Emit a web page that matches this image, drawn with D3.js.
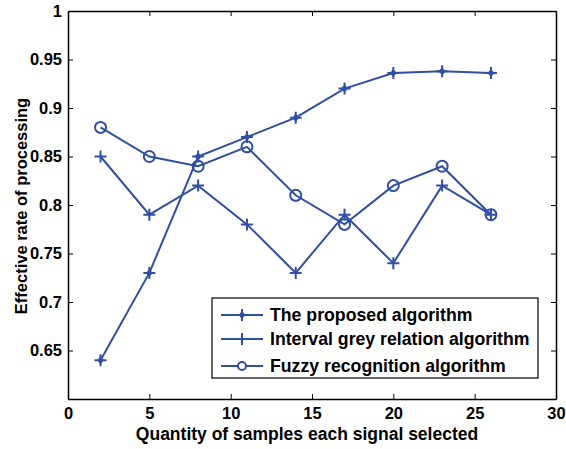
<!DOCTYPE html>
<html>
<head>
<meta charset="utf-8">
<script src="https://cdn.jsdelivr.net/npm/d3@7"></script>
<style>
  body { margin: 0; background: #fff; }
  text { font-family: "Liberation Sans", Arial, sans-serif; font-weight: bold; }
</style>
</head>
<body>
<div id="chart"></div>
<script>
// samples per signal
var samples = [2, 5, 8, 11, 14, 17, 20, 23, 26];

var proposed = [0.64, 0.73, 0.85, 0.87, 0.89, 0.92, 0.936, 0.938, 0.936];
var interval = [0.85, 0.79, 0.82, 0.78, 0.73, 0.79, 0.74, 0.82, 0.79];
var fuzzy    = [0.88, 0.85, 0.84, 0.86, 0.81, 0.78, 0.82, 0.84, 0.79];

var seriesNames = ["The proposed algorithm", "Interval grey relation algorithm", "Fuzzy recognition algorithm"];
var markers = ["star", "plus", "circle"];

var xTicks = [0, 5, 10, 15, 20, 25, 30];
var yTicks = [0.65, 0.7, 0.75, 0.8, 0.85, 0.9, 0.95, 1];

var width = 566, height = 449;
var plotLeft = 68, plotRight = 556, plotTop = 11, plotBottom = 399;
var blue = "#2f4fa3";
var tickLen = 5;

var series = [proposed, interval, fuzzy].map(function(vals, i) {
  return { name: seriesNames[i], marker: markers[i],
           values: samples.map(function(s, j) { return { x: s, y: vals[j] }; }) };
});

var xScale = d3.scaleLinear().domain([0, 30]).range([plotLeft, plotRight]);
var yScale = d3.scaleLinear().domain([0.6, 1]).range([plotBottom, plotTop]);

var svg = d3.select("#chart").append("svg")
  .attr("width", width)
  .attr("height", height);

/* axes, MATLAB style: ticks inside, mirrored on top and right */
svg.append("g")
  .attr("transform", `translate(0, ${plotBottom})`)
  .call(d3.axisBottom(xScale).tickValues(xTicks).tickSizeInner(-tickLen).tickSizeOuter(0).tickPadding(8))
  .call(g => g.selectAll("text").attr("font-size", "16.5px").attr("fill", "#000"));

svg.append("g")
  .attr("transform", `translate(0, ${plotTop})`)
  .call(d3.axisTop(xScale).tickValues(xTicks).tickSizeInner(-tickLen).tickSizeOuter(0).tickFormat(""));

svg.append("g")
  .attr("transform", `translate(${plotLeft}, 0)`)
  .call(d3.axisLeft(yScale).tickValues(yTicks).tickSizeInner(-tickLen).tickSizeOuter(0).tickPadding(6).tickFormat(d3.format("~g")))
  .call(g => g.selectAll("text").attr("font-size", "16.5px").attr("fill", "#000"));

svg.append("g")
  .attr("transform", `translate(${plotRight}, 0)`)
  .call(d3.axisRight(yScale).tickValues(yTicks).tickSizeInner(-tickLen).tickSizeOuter(0).tickFormat(""));

svg.selectAll(".domain").attr("stroke", "#000").attr("stroke-width", 1.5);
svg.selectAll(".tick line").attr("stroke", "#000");

/* axis labels */
svg.append("text")
  .attr("x", 307)
  .attr("y", 440)
  .attr("text-anchor", "middle")
  .attr("font-size", "17.5px")
  .text("Quantity of samples each signal selected");

svg.append("text")
  .attr("transform", "translate(27, 206) rotate(-90)")
  .attr("text-anchor", "middle")
  .attr("font-size", "16.5px")
  .text("Effective rate of processing");

/* lines */
var line = d3.line()
  .x(d => xScale(d.x))
  .y(d => yScale(d.y));

svg.selectAll(".line")
  .data(series).enter()
  .append("path")
  .attr("class", "line")
  .attr("d", d => line(d.values))
  .attr("fill", "none")
  .attr("stroke", blue)
  .attr("stroke-width", 2);

function drawMarker(g, type) {
  if (type === "circle") {
    g.append("circle").attr("r", 5.5).attr("fill", "none").attr("stroke", blue).attr("stroke-width", 2);
  } else if (type === "plus") {
    g.append("path").attr("d", "M-6,0H6M0,-6V6").attr("stroke", blue).attr("stroke-width", 2);
  } else {
    g.append("path").attr("d", "M-6,0H6M0,-6V6").attr("stroke", blue).attr("stroke-width", 2);
    g.append("path").attr("d", "M0,-4L3.5,0L0,4L-3.5,0Z").attr("fill", blue);
  }
}

series.forEach(function(s) {
  svg.append("g").selectAll("g")
    .data(s.values).enter()
    .append("g")
    .attr("transform", d => `translate(${xScale(d.x)}, ${yScale(d.y)})`)
    .each(function() { drawMarker(d3.select(this), s.marker); });
});

/* legend */
var legend = svg.append("g").attr("transform", "translate(212, 298)");
legend.append("rect")
  .attr("width", 326).attr("height", 80)
  .attr("fill", "#fff").attr("stroke", "#000").attr("stroke-width", 1.2);

var rowY = [17, 41, 68];
series.forEach(function(s, i) {
  var row = legend.append("g").attr("transform", `translate(0, ${rowY[i]})`);
  row.append("line").attr("x1", 9).attr("x2", 51).attr("stroke", blue).attr("stroke-width", 2);
  var m = row.append("g").attr("transform", "translate(30, 0)");
  if (s.marker === "circle") {
    m.append("circle").attr("r", 4).attr("fill", "#fff").attr("stroke", blue).attr("stroke-width", 2);
  } else {
    drawMarker(m, s.marker);
  }
  row.append("text").attr("x", 58).attr("y", 6).attr("font-size", "17.7px").text(s.name);
});
</script>
</body>
</html>
